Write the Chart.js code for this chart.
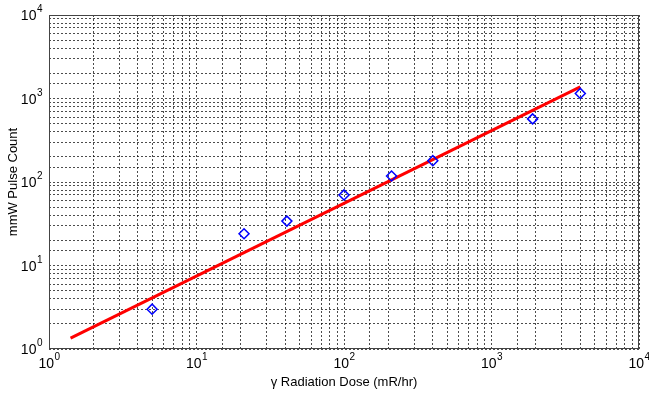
<!DOCTYPE html>
<html>
<head>
<meta charset="utf-8">
<script src="https://cdn.jsdelivr.net/npm/chart.js@4"></script>
<style>
  html, body { margin: 0; padding: 0; background: #fff; }
  #wrap { width: 649px; height: 396px; }
</style>
</head>
<body>
<div id="wrap"><canvas id="dose-chart"></canvas></div>
<script>
// measured points (gamma dose vs pulse count)
const doseX = [5, 21, 41, 100, 210, 400, 1900, 4000];
const pulseY = [3.0, 24, 34, 70, 118, 180, 570, 1150];

// fitted power-law line, end points
const fitX = [1.4, 4000];
const fitY = [1.35, 1380];

// decade exponents for the tick labels
const decades = [0, 1, 2, 3, 4];

const FONT = "'Liberation Sans', Arial, sans-serif";

function toPoints(xs, ys) {
    return xs.map((x, i) => ({ x: x, y: ys[i] }));
}

// draws 10^n labels and the box, MATLAB style
const matlabAxes = {
    id: 'matlabAxes',
    afterDraw(chart) {
        const ctx = chart.ctx;
        const xs = chart.scales.x;
        const ys = chart.scales.y;
        const area = chart.chartArea;
        ctx.save();
        ctx.fillStyle = '#000';
        ctx.textBaseline = 'alphabetic';
        ctx.textAlign = 'left';

        decades.forEach(e => {
            const base = '10', exp = String(e);
            ctx.font = '14px ' + FONT;
            const wb = ctx.measureText(base).width;
            ctx.font = '10px ' + FONT;
            const we = ctx.measureText(exp).width;

            // x axis label
            const px = xs.getPixelForValue(Math.pow(10, e));
            const left = px - (wb + we) / 2;
            ctx.font = '14px ' + FONT;
            ctx.fillText(base, left, area.bottom + 19);
            ctx.font = '10px ' + FONT;
            ctx.fillText(exp, left + wb + 0.5, area.bottom + 11);

            // y axis label
            const py = ys.getPixelForValue(Math.pow(10, e));
            const right = area.left - 7;
            ctx.font = '14px ' + FONT;
            ctx.fillText(base, right - we - wb, py + 5);
            ctx.font = '10px ' + FONT;
            ctx.fillText(exp, right - we + 0.5, py - 3);
        });

        // axes box
        ctx.strokeStyle = '#444';
        ctx.lineWidth = 1;
        ctx.strokeRect(Math.round(area.left) + 0.5, Math.round(area.top) + 0.5,
            Math.round(area.right - area.left) - 1, Math.round(area.bottom - area.top) - 1);
        ctx.restore();
    }
};

const gridOpts = {
    color: 'rgba(0,0,0,0.7)',
    lineWidth: 1,
    drawTicks: false
};

new Chart(document.getElementById('dose-chart').getContext('2d'), {
    data: {
        datasets: [
            {
                type: 'scatter',
                label: 'Measured',
                data: toPoints(doseX, pulseY),
                pointStyle: 'rectRot',
                pointRadius: 5,
                pointHoverRadius: 5,
                borderColor: '#0000ff',
                backgroundColor: 'rgba(0,0,0,0)',
                pointBorderWidth: 1.5
            },
            {
                type: 'line',
                label: 'Fit',
                data: toPoints(fitX, fitY),
                borderColor: '#ff0000',
                borderWidth: 3,
                pointRadius: 0,
                fill: false
            }
        ]
    },
    plugins: [matlabAxes],
    options: {
        responsive: true,
        maintainAspectRatio: false,
        animation: false,
        layout: { padding: { left: 0, right: 10, top: 15, bottom: 0 } },
        plugins: {
            legend: { display: false },
            tooltip: { enabled: false }
        },
        scales: {
            x: {
                type: 'logarithmic',
                min: 1,
                max: 10000,
                grid: gridOpts,
                border: { display: false, dash: [2, 2] },
                ticks: { display: false },
                title: {
                    display: true,
                    text: 'γ Radiation Dose (mR/hr)',
                    color: '#000',
                    font: { family: FONT, size: 13 },
                    padding: 6
                },
                afterFit(scale) { scale.height = 47; }
            },
            y: {
                type: 'logarithmic',
                min: 1,
                max: 10000,
                grid: gridOpts,
                border: { display: false, dash: [2, 2] },
                ticks: { display: false },
                title: {
                    display: true,
                    text: 'mmW Pulse Count',
                    color: '#000',
                    font: { family: FONT, size: 13 },
                    padding: 6
                },
                afterFit(scale) { scale.width = 49; }
            }
        }
    }
});
</script>
</body>
</html>
